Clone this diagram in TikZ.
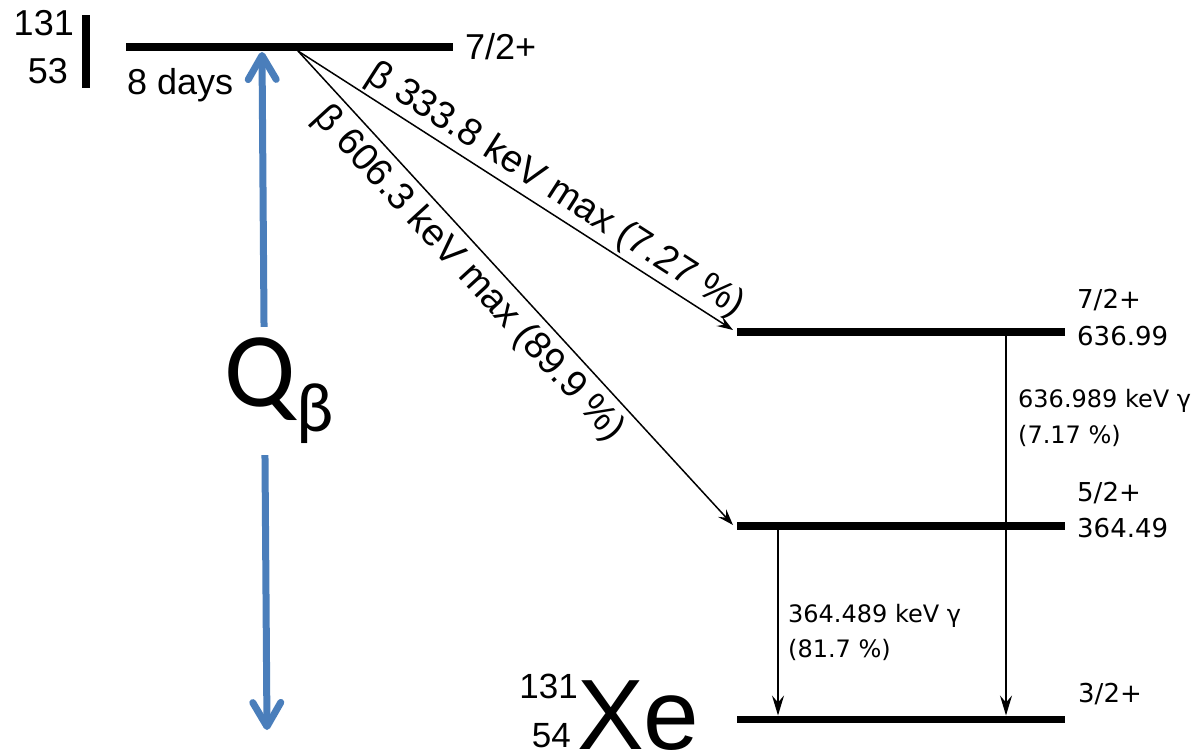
\documentclass[tikz,border=0pt]{standalone}
\usepackage{fontspec}
\setmainfont{Liberation Sans}
\newfontfamily\dvfont{DejaVu Sans}
\newfontfamily\clfont{Carlito}
\usepackage{xcolor}
\usepackage{tikz}
\usetikzlibrary{positioning,arrows.meta,calc}
\definecolor{qblue}{HTML}{4A7EBB}
\newcommand{\fsz}[1]{\fontsize{#1}{#1}\selectfont}

\begin{document}
\begin{tikzpicture}[x=1pt, y=-1pt,
  level/.style={line width=7.5pt},
  beta/.style={line width=1.5pt, -{Stealth[length=16pt, width=11pt, inset=6pt]}},
  gamma/.style={line width=1.5pt, -{Stealth[length=20pt, width=12pt, inset=7pt]}},
  qline/.style={qblue, line width=7pt,
    {Straight Barb[length=24pt, width=28pt, line cap=round, line join=round]}-{Straight Barb[length=24pt, width=28pt, line cap=round, line join=round]}},
  lbl/.style={inner sep=0pt},
  nuc/.style={lbl, font=\fsz{36}},
  state/.style={lbl, font=\dvfont\fsz{26}, anchor=base west},
  gtext/.style={lbl, font=\dvfont\fsz{24}, anchor=base west},
  blabel/.style={lbl, font=\fsz{38}, sloped}]
\useasboundingbox (0,0) rectangle (1192,753);

\coordinate (iL) at (126,47);   \coordinate (iR) at (453,47);
\coordinate (aL) at (737,332);  \coordinate (aR) at (1065,332);
\coordinate (bL) at (737,526);  \coordinate (bR) at (1065,526);
\coordinate (gL) at (737,719.5);\coordinate (gR) at (1065,719.5);

\draw[level] (iL) -- (iR);
\draw[level] (aL) -- (aR);
\draw[level] (bL) -- (bR);
\draw[level] (gL) -- (gR);

\node[nuc, anchor=base east] (massI) at (74,35) {131};
\node[nuc, anchor=base east] (chargeI) at (68,83) {53};
\draw[line width=8pt] (85.5,15) -- (85.5,88);
\node[nuc, anchor=base west] (spinI) at ([shift={(12,12)}]iR) {7/2+};
\node[nuc, anchor=base west] (thalf) at ([shift={(1,47)}]iL) {8 days};

\coordinate (src) at (298,51);
\coordinate (toA) at ($(aL)+(-4,-2)$);
\coordinate (toB) at ($(bL)+(-4,-1)$);
\draw[beta] (src) -- node[blabel, above=3pt, pos=0.565] (betaA) {β 333.8 keV max (7.27 \%)} (toA);
\draw[beta] (src) -- node[blabel, below=7pt, pos=0.435] (betaB) {β 606.3 keV max (89.9 \%)} (toB);

\node[state] (enA) at ([shift={(12,13)}]aR) {636.99};
\node[state] (spinA) at ([yshift=37pt]enA.base west) {7/2+};
\node[state] (enB) at ([shift={(12,11)}]bR) {364.49};
\node[state] (spinB) at ([yshift=36pt]enB.base west) {5/2+};
\node[state] (spinG) at ([shift={(13,-17)}]gR) {3/2+};

\coordinate (ga) at (1006,332);
\coordinate (gb) at (778,526);
\draw[gamma] (ga) -- ([yshift=4pt]ga |- gL);
\draw[gamma] (gb) -- ([yshift=4pt]gb |- gL);
\node[gtext] (gamAe) at ([shift={(12,75)}]ga) {636.989 keV γ};
\node[gtext] (gamAi) at ([yshift=-36pt]gamAe.base west) {(7.17 \%)};
\node[gtext] (gamBe) at ([shift={(10,96)}]gb) {364.489 keV γ};
\node[gtext] (gamBi) at ([yshift=-35pt]gamBe.base west) {(81.7 \%)};

\node[lbl, font=\fsz{100}, anchor=base west] (xe) at (577,749) {Xe};
\node[lbl, font=\fsz{35}, anchor=base east] (massG) at ([shift={(1,-51)}]xe.base west) {131};
\node[lbl, font=\fsz{35}, anchor=base east] (chargeG) at ([shift={(-6,-2)}]xe.base west) {54};

\coordinate (qtop) at (262,52);
\coordinate (qbot) at (267,730);
\draw[qline] (qtop) -- node[midway, fill=white, text=black, inner sep=0pt, minimum height=128pt, xshift=14.5pt, font=\clfont] (qval)
  {\fsz{106}Q\raisebox{-25pt}{\fsz{70}β}} (qbot);
\end{tikzpicture}
\end{document}
